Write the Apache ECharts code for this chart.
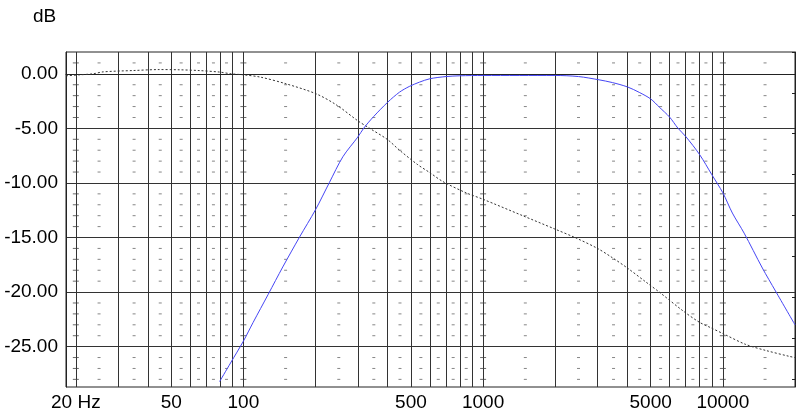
<!DOCTYPE html>
<html>
<head>
<meta charset="utf-8">
<script src="https://cdn.jsdelivr.net/npm/echarts@6/dist/echarts.min.js"></script>
<style>html,body{margin:0;padding:0;background:#fff}#c{width:800px;height:420px}</style>
</head>
<body>
<div id="c"></div>
<script>
// Blue curve (band-pass response)
const blueFreq = [79.6, 88.4, 100, 109.7, 127, 146, 171.6, 200, 228.6, 260, 300, 318, 350, 400, 448, 492, 543, 600, 700, 800, 1000, 2000, 2500, 3046, 3460, 4000, 4480, 5000, 5430, 6000, 6490, 7000, 8000, 9000, 10000, 10960, 12270, 14620, 16580, 20000];
const blueDb   = [-28.2, -26.5, -24.5, -22.8, -20.2, -17.7, -14.95, -12.45, -9.95, -7.6, -5.8, -4.97, -3.9, -2.6, -1.68, -1.16, -0.76, -0.45, -0.25, -0.18, -0.15, -0.15, -0.25, -0.55, -0.8, -1.2, -1.7, -2.3, -3.05, -3.97, -4.97, -5.74, -7.4, -9.25, -10.9, -12.76, -14.6, -17.8, -19.9, -23.0];
// Dotted curve
const dotFreq = [18.2, 20.8, 23.6, 26, 34.6, 44.6, 54, 65.3, 79.6, 89, 100, 117.6, 151, 201, 244, 300, 335, 400, 448, 534, 598, 678, 848, 1000, 1462, 1980, 2443, 3000, 3460, 4000, 4790, 5430, 6800, 7960, 8870, 10000, 12460, 15100, 19000, 20000];
const dotDb   = [-0.18, -0.09, 0.0, 0.18, 0.3, 0.39, 0.37, 0.3, 0.16, 0.0, -0.09, -0.3, -0.92, -1.83, -2.84, -4.3, -4.97, -6.04, -7.0, -8.33, -9.04, -9.86, -10.9, -11.5, -13.0, -14.2, -15.05, -16.0, -16.85, -17.8, -19.1, -20.0, -21.7, -22.75, -23.25, -23.8, -24.8, -25.35, -25.9, -26.0];

// Axis ticks / grid
const gridFreqs = [20,30,40,50,60,70,80,90,100,200,300,400,500,600,700,800,900,1000,2000,3000,4000,5000,6000,7000,8000,9000,10000];
const xLabelFreqs = [20, 50, 100, 500, 1000, 5000, 10000];
const yTicks = [0, -5, -10, -15, -20, -25];
const dashFreqs = [25,35,45,55,65,75,85,150,250,350,450,550,650,750,850,1500,2500,3500,4500,5500,6500,7500,8500,15000];
const crossFreqs = [20, 100, 1000, 10000];
const dashDb = [1,-1,-2,-3,-4,-6,-7,-8,-9,-11,-12,-13,-14,-16,-17,-18,-19,-21,-22,-23,-24,-26,-27,-28];
const rightTicks = [0,1,2,3,4,5,6,7,8];

const dashData = [];
dashFreqs.forEach(f => dashDb.forEach(d => dashData.push([f, d])));
const crossData = [];
crossFreqs.forEach(f => dashDb.forEach(d => crossData.push([f, d])));

const FONT = 'Liberation Sans, Arial, sans-serif';
const chart = echarts.init(document.getElementById('c'), null, {renderer: 'canvas'});
chart.setOption({
  animation: false,
  backgroundColor: '#fff',
  graphic: [{type: 'text', left: 33, top: 7, style: {text: 'dB', fontSize: 19, fontFamily: FONT, fill: '#000'}}],
  grid: {left: 66, top: 52, width: 729, height: 335, show: true, borderColor: '#222', borderWidth: 1, containLabel: false},
  xAxis: {
    type: 'log', logBase: 10, min: 18.2, max: 20000,
    axisLine: {show: true, lineStyle: {color: '#222', width: 1}},
    axisTick: {show: false, customValues: gridFreqs},
    axisLabel: {customValues: xLabelFreqs, fontSize: 19, fontFamily: FONT, color: '#000', margin: 6,
      formatter: v => { const r = Math.round(v); return r === 20 ? '20 Hz' : String(r); }},
    splitLine: {show: true, lineStyle: {color: '#333', width: 1}},
    minorTick: {show: false}, minorSplitLine: {show: false}
  },
  yAxis: [{
    type: 'value', min: -28.7, max: 2, position: 'left',
    axisLine: {show: true, lineStyle: {color: '#222', width: 1}},
    axisTick: {show: false, customValues: yTicks},
    axisLabel: {customValues: yTicks, fontSize: 19, fontFamily: FONT, color: '#000', margin: 8,
      formatter: v => v.toFixed(2)},
    splitLine: {show: true, lineStyle: {color: '#333', width: 1}}
  }, {
    type: 'value', min: 0, max: 8.2, inverse: true, position: 'right',
    axisLine: {show: true, lineStyle: {color: '#222', width: 1}},
    axisTick: {show: true, inside: true, length: 3, customValues: rightTicks, lineStyle: {color: '#222'}},
    axisLabel: {show: false},
    splitLine: {show: false}
  }],
  series: [{
    type: 'scatter', silent: true, symbol: 'rect', symbolSize: [3, 1],
    itemStyle: {color: '#666'}, data: dashData, z: 1
  }, {
    type: 'scatter', silent: true, symbol: 'rect', symbolSize: [6, 1],
    itemStyle: {color: '#444'}, data: crossData, z: 1
  }, {
    type: 'line', showSymbol: false, smooth: 0.3, silent: true,
    lineStyle: {color: '#333', width: 1, type: [2, 2]},
    data: dotFreq.map((f, i) => [f, dotDb[i]]), z: 3
  }, {
    type: 'line', showSymbol: false, smooth: 0.3, silent: true,
    lineStyle: {color: '#4646f5', width: 1},
    data: blueFreq.map((f, i) => [f, blueDb[i]]), z: 4
  }]
});
</script>
</body>
</html>
